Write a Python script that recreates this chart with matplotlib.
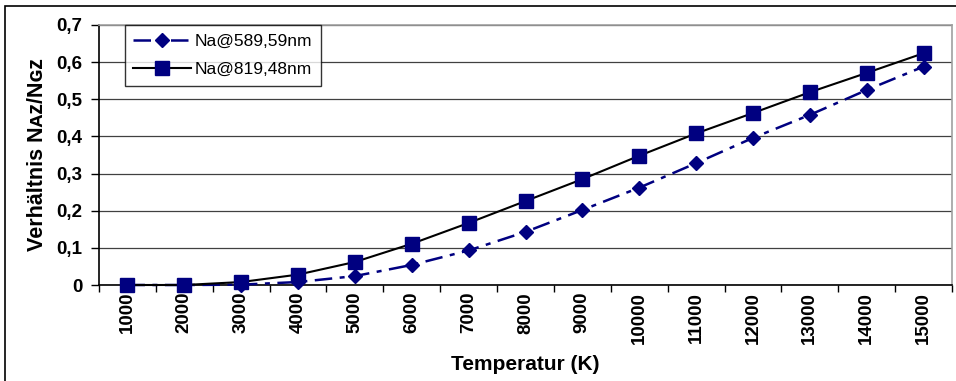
import matplotlib.pyplot as plt
from matplotlib.patches import Rectangle

# data
temperatures = [1000, 2000, 3000, 4000, 5000, 6000, 7000, 8000,
                9000, 10000, 11000, 12000, 13000, 14000, 15000]
na_589 = [0.0, 0.0, 0.001, 0.008, 0.024, 0.054, 0.093, 0.143,
          0.202, 0.262, 0.328, 0.396, 0.458, 0.525, 0.588]
na_819 = [0.0, 0.0, 0.008, 0.028, 0.062, 0.111, 0.167, 0.226,
          0.285, 0.348, 0.408, 0.463, 0.519, 0.571, 0.624]
yticks = [0, 0.1, 0.2, 0.3, 0.4, 0.5, 0.6, 0.7]
ytick_labels = ["0", "0,1", "0,2", "0,3", "0,4", "0,5", "0,6", "0,7"]

plt.rcParams["font.family"] = ["Liberation Sans", "DejaVu Sans"]

navy = "#000080"
fig = plt.figure(figsize=(9.56, 3.81), dpi=100)
ax = fig.add_axes([99 / 956, 1 - 285 / 381, 853 / 956, 260 / 381])

xpos = list(range(len(temperatures)))

ax.plot(xpos, na_589, color=navy, lw=1.8, ls=(0, (7, 3, 2, 3)),
        marker="D", ms=7.5, mfc=navy, mec=navy, label="Na@589,59nm",
        zorder=3, clip_on=False)
ax.plot(xpos, na_819, color="black", lw=1.5, ls="-",
        marker="s", ms=9.5, mfc=navy, mec=navy, label="Na@819,48nm",
        zorder=4, clip_on=False)

ax.set_xlim(-0.5, len(temperatures) - 0.5)
ax.set_ylim(0, 0.7)

# category ticks at the boundaries, labels at the centres
ax.set_xticks([i - 0.5 for i in range(len(temperatures) + 1)])
ax.set_xticklabels([])
ax.set_xticks(xpos, minor=True)
ax.set_xticklabels([str(t) for t in temperatures], minor=True,
                   rotation=90, fontsize=13.5, fontweight="bold")
ax.tick_params(axis="x", which="major", direction="out", length=5,
               width=1, color="black")
ax.tick_params(axis="x", which="minor", length=0, pad=5)

ax.set_yticks(yticks)
ax.set_yticklabels(ytick_labels, fontsize=13.5, fontweight="bold")
ax.tick_params(axis="y", direction="out", length=6, width=1, pad=6)

ax.grid(axis="y", color="#404040", lw=0.9)
ax.set_axisbelow(True)

for side in ["top", "right"]:
    ax.spines[side].set_color("#a0a0a0")
    ax.spines[side].set_linewidth(1.2)
for side in ["left", "bottom"]:
    ax.spines[side].set_color("black")
    ax.spines[side].set_linewidth(1.2)

ax.set_xlabel("Temperatur (K)", fontsize=15, fontweight="bold", labelpad=8)
ax.set_ylabel("Verhältnis Nᴀᴢ/Nɢᴢ", fontsize=15.5, fontweight="bold", labelpad=6)

leg = ax.legend(loc="upper left", bbox_to_anchor=(0.03, 1.0), fontsize=12.5,
                frameon=True, fancybox=False, handlelength=3.3,
                borderaxespad=0, borderpad=0.5, labelspacing=0.75,
                handletextpad=0.25)
leg.get_frame().set_edgecolor("black")
leg.get_frame().set_linewidth(1)

# outer chart border (cut off at right and bottom)
fig.patches.append(Rectangle((5 / 956, -0.1), 2, 1 - 6 / 381 + 0.1,
                             transform=fig.transFigure, fill=False,
                             edgecolor="black", lw=1.2))

fig.savefig("out.png", dpi=100)
